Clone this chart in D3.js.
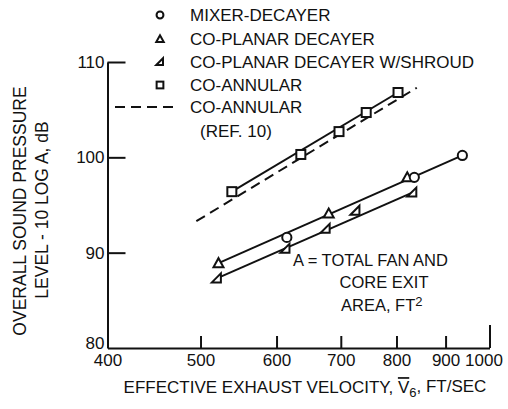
<!DOCTYPE html>
<html>
<head>
<meta charset="utf-8">
<script src="https://cdn.jsdelivr.net/npm/d3@7"></script>
<style>
  html, body { margin: 0; padding: 0; background: #fff; }
  svg { display: block; }
  text { font-family: "Liberation Sans", Arial, sans-serif; fill: #111; }
</style>
</head>
<body>
<svg id="chart" width="508" height="409"></svg>
<script>
// Axis ticks
const xTicks = [400, 500, 600, 700, 800, 900, 1000];
const yTicks = [80, 90, 100, 110];

// Measured points: velocity (ft/sec) and level (dB)
const coAnnularV = [539, 636, 697, 744, 803];
const coAnnularL = [96.4, 100.3, 102.7, 104.7, 106.8];
const mixerV = [615, 835, 937];
const mixerL = [91.6, 97.9, 100.2];
const coplanarV = [522, 680, 821];
const coplanarL = [88.9, 94.1, 97.9];
const shroudV = [520, 613, 675, 725, 831];
const shroudL = [87.3, 90.4, 92.5, 94.4, 96.3];

// Fitted lines (end points)
const coAnnularFitV = [539, 803];
const coAnnularFitL = [96.4, 106.8];
const upperFitV = [522, 937];
const upperFitL = [88.9, 100.2];
const lowerFitV = [520, 831];
const lowerFitL = [87.3, 96.3];
const ref10V = [495, 840];
const ref10L = [93.3, 107.3];

const legendLabels = ["MIXER-DECAYER", "CO-PLANAR DECAYER", "CO-PLANAR DECAYER W/SHROUD", "CO-ANNULAR", "CO-ANNULAR"];

const svg = d3.select("#chart");
const ink = "#111";

const x = d3.scaleLog().domain([400, 1000]).range([107.5, 489.5]);
const y = d3.scaleLinear().domain([80, 110]).range([348, 62]);

const zip = (a, b) => a.map((v, i) => [v, b[i]]);
const line = d3.line().x(d => x(d[0])).y(d => y(d[1]));

// Axes with inward ticks
const gx = svg.append("g").attr("transform", `translate(0,${y(80)})`)
  .call(d3.axisBottom(x).tickValues(xTicks).tickFormat(d3.format("d"))
    .tickSize(-12).tickSizeOuter(0).tickPadding(6));
const gy = svg.append("g").attr("transform", `translate(${x(400)},0)`)
  .call(d3.axisLeft(y).tickValues(yTicks).tickSize(-18).tickSizeOuter(0).tickPadding(3));

[gx, gy].forEach(g => {
  g.selectAll("path.domain").attr("stroke", ink).attr("stroke-width", 2);
  g.selectAll(".tick line").attr("stroke", ink).attr("stroke-width", 2);
  g.selectAll(".tick text").attr("font-size", 17).attr("fill", ink)
    .style("font-family", "'Liberation Sans', Arial, sans-serif");
});
gx.selectAll(".tick").filter(d => d === 400).select("line").remove();
gx.selectAll(".tick").filter(d => d === 1000).select("line").attr("y2", -23);
gx.selectAll(".tick").filter(d => d === 1000).select("text").attr("dx", -6);
gy.selectAll(".tick").filter(d => d === 80).select("line").remove();
gy.selectAll(".tick").filter(d => d === 80).select("text").attr("dy", "0.05em");

// Lines
const drawLine = (pts, dash) => svg.append("path")
  .attr("d", line(pts)).attr("fill", "none").attr("stroke", ink)
  .attr("stroke-width", 2).attr("stroke-dasharray", dash || null);
drawLine(zip(ref10V, ref10L), "10,6");
drawLine(zip(coAnnularFitV, coAnnularFitL));
drawLine(zip(upperFitV, upperFitL));
drawLine(zip(lowerFitV, lowerFitL));

// Marker shapes
const sym = {
  circle: (g, s) => g.append("circle").attr("r", 4.6 * s),
  square: (g, s) => g.append("rect").attr("x", -4.5 * s).attr("y", -4.5 * s).attr("width", 9 * s).attr("height", 9 * s),
  tri: (g, s) => g.append("path").attr("d", `M${-5 * s},${4 * s}L${5 * s},${4 * s}L0,${-5 * s}Z`),
  rtri: (g, s) => g.append("path").attr("d", `M${-5 * s},${4 * s}L${4 * s},${4 * s}L${4 * s},${-5 * s}Z`)
};
const drawMarkers = (vs, ls, kind) => {
  zip(vs, ls).forEach(p => {
    const g = svg.append("g").attr("transform", `translate(${x(p[0])},${y(p[1])})`);
    sym[kind](g, 1).attr("fill", "#fff").attr("stroke", ink).attr("stroke-width", 2);
  });
};
drawMarkers(shroudV, shroudL, "rtri");
drawMarkers(coplanarV, coplanarL, "tri");
drawMarkers(mixerV, mixerL, "circle");
drawMarkers(coAnnularV, coAnnularL, "square");

// Legend
const legKinds = ["circle", "tri", "rtri", "square"];
const legY = [15, 39, 62, 85, 107];
legKinds.forEach((k, i) => {
  const g = svg.append("g").attr("transform", `translate(160,${legY[i]})`);
  sym[k](g, 0.75).attr("fill", "#fff").attr("stroke", ink).attr("stroke-width", 2);
});
svg.append("line").attr("x1", 115).attr("x2", 177).attr("y1", legY[4]).attr("y2", legY[4])
  .attr("stroke", ink).attr("stroke-width", 2).attr("stroke-dasharray", "10,6");
legendLabels.forEach((t, i) => {
  svg.append("text").attr("x", 190).attr("y", legY[i]).attr("dy", "0.36em")
    .attr("font-size", 17).text(t);
});
svg.append("text").attr("x", 200).attr("y", 131).attr("dy", "0.36em")
  .attr("font-size", 17).text("(REF. 10)");

// Annotation
svg.append("text").attr("x", 293).attr("y", 260).attr("dy", "0.36em").attr("font-size", 16.5)
  .text("A = TOTAL FAN AND");
svg.append("text").attr("x", 384).attr("y", 282).attr("dy", "0.36em").attr("font-size", 16.5)
  .attr("text-anchor", "middle").text("CORE EXIT");
const area = svg.append("text").attr("x", 341).attr("y", 305).attr("dy", "0.36em").attr("font-size", 16.5);
area.append("tspan").text("AREA, FT");
area.append("tspan").attr("dy", "-0.35em").attr("font-size", 13).text("2");

// Axis titles
const xt = svg.append("text").attr("x", 305).attr("y", 387).attr("dy", "0.36em")
  .attr("font-size", 17).attr("text-anchor", "middle");
xt.append("tspan").text("EFFECTIVE EXHAUST VELOCITY, ");
xt.append("tspan").style("text-decoration", "overline").text("V");
xt.append("tspan").attr("dy", "0.3em").attr("font-size", 13).text("6");
xt.append("tspan").attr("dy", "-0.3em").text(", FT/SEC");

svg.append("text").attr("transform", "translate(20,211) rotate(-90)").attr("dy", "0.36em")
  .attr("font-size", 17.5).attr("text-anchor", "middle").text("OVERALL SOUND PRESSURE");
svg.append("text").attr("transform", "translate(42,210) rotate(-90)").attr("dy", "0.36em")
  .attr("font-size", 17.5).attr("text-anchor", "middle").text("LEVEL - 10 LOG A, dB");
</script>
</body>
</html>
